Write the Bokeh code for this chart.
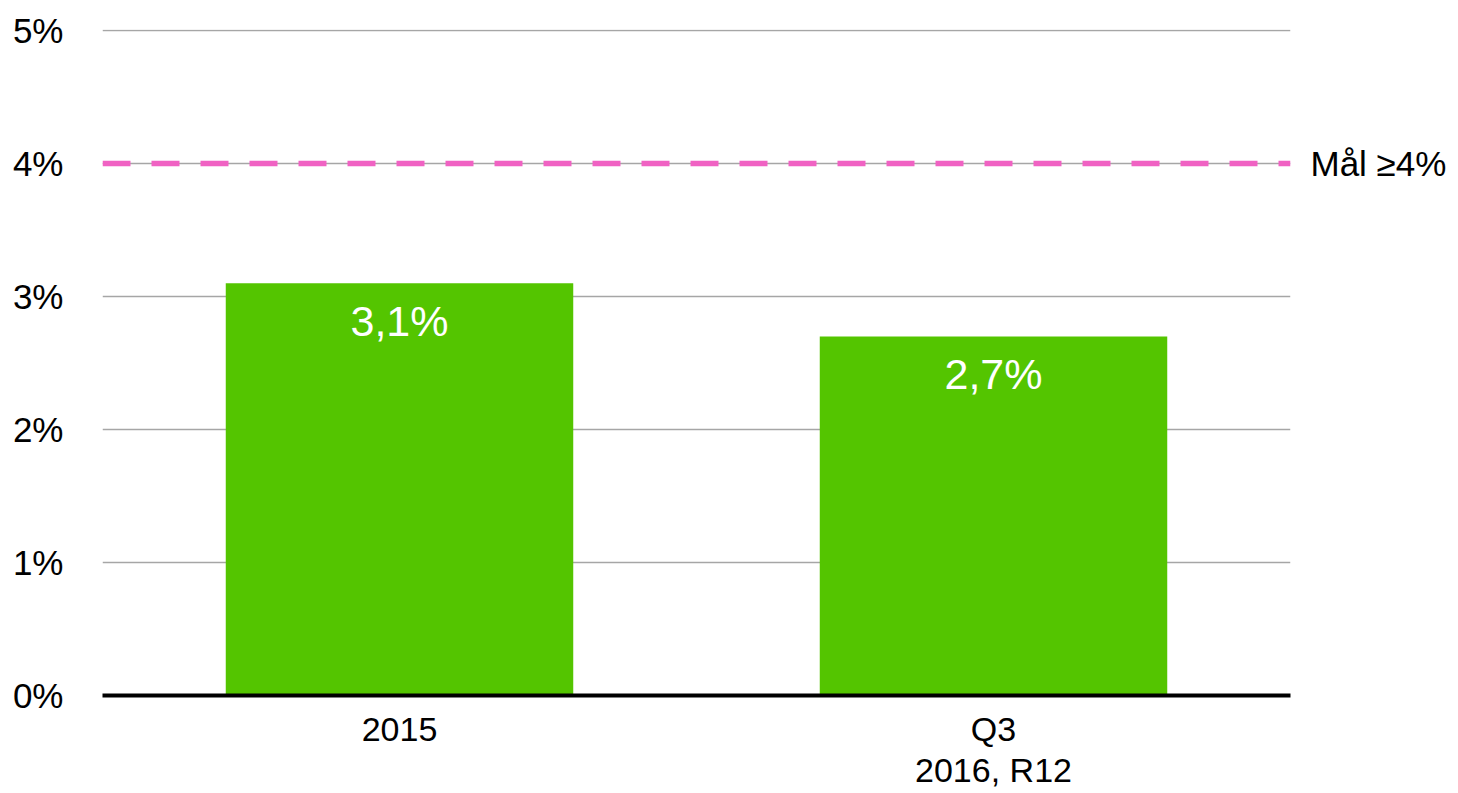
from bokeh.plotting import figure
from bokeh.models import Range1d, FixedTicker, Span, LinearAxis, ColumnDataSource, FactorRange
from bokeh.core.properties import value
from bokeh.embed import file_html
from bokeh.resources import INLINE

categories = ["2015", "Q3\n2016, R12"]
values = [3.1, 2.7]
labels = ["3,1%", "2,7%"]
target = 4.0
target_label = "Mål ≥4%"
y_ticks = [0, 1, 2, 3, 4, 5]

FONT = "Liberation Sans"
FS = "35px"

p = figure(x_range=FactorRange(*categories), y_range=Range1d(0, 5.008),
           width=1458, height=793, output_backend="svg", toolbar_location=None,
           min_border_left=102, min_border_right=168, min_border_top=29, min_border_bottom=98)
p.outline_line_color = None
p.background_fill_color = "white"

src = ColumnDataSource(dict(x=categories, top=values, lab=labels))
p.vbar(x="x", top="top", width=0.585, source=src, fill_color="#54c500", line_color=None)

# grid
p.xgrid.grid_line_color = None
p.ygrid.grid_line_color = "#a6a6a6"
p.ygrid.grid_line_width = 1.3
p.yaxis.ticker = FixedTicker(ticks=y_ticks)
p.yaxis.major_label_overrides = {t: f"{t}%" for t in y_ticks}
p.yaxis.axis_line_color = None
p.yaxis.major_tick_line_color = None
p.yaxis.minor_tick_line_color = None
p.yaxis.major_label_standoff = 33
p.yaxis.major_label_text_font = FONT
p.yaxis.major_label_text_font_size = FS
p.yaxis.major_label_text_color = "black"

p.xaxis.axis_line_color = "black"
p.xaxis.axis_line_width = 4
p.xaxis.major_tick_line_color = None
p.xaxis.minor_tick_line_color = None
p.xaxis.major_label_standoff = 8
p.xaxis.major_label_text_font = FONT
p.xaxis.major_label_text_font_size = "34px"
p.xaxis.major_label_text_color = "black"
p.xaxis.major_label_text_line_height = 1.1

# target line
span = Span(location=target, dimension="width", line_color="#f062c3",
            line_width=5.5, line_dash="28 21")
p.add_layout(span)

# target label as a right axis
rax = LinearAxis(ticker=FixedTicker(ticks=[target]),
                 major_label_overrides={target: target_label})
rax.axis_line_color = None
rax.major_tick_line_color = None
rax.minor_tick_line_color = None
rax.major_label_standoff = 14
rax.major_label_text_font = FONT
rax.major_label_text_font_size = FS
rax.major_label_text_color = "black"
p.add_layout(rax, "right")

# bar labels
p.text(x="x", y="top", text="lab", source=src, text_color="white",
       text_font=value(FONT), text_font_size="43px", text_align="center",
       text_baseline="top", y_offset=14)

open("out.html", "w").write(file_html(p, INLINE))
